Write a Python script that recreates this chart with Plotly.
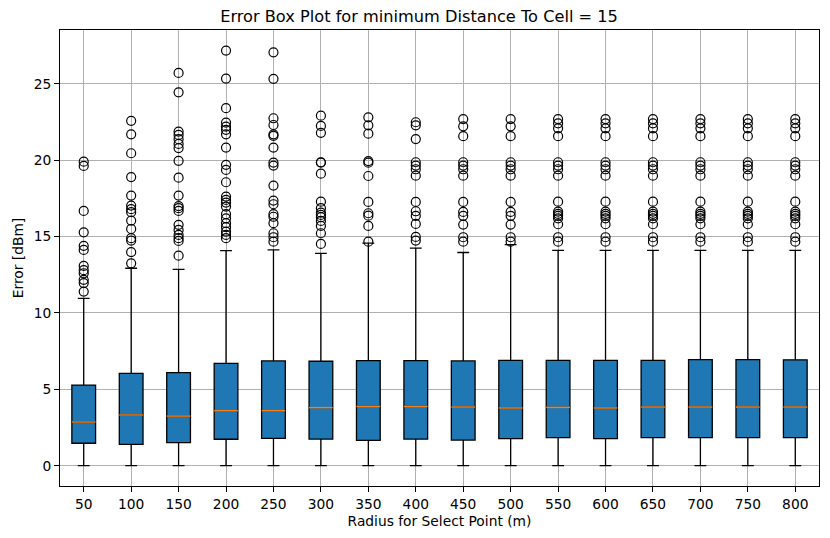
import plotly.graph_objects as go

radius = [50, 100, 150, 200, 250, 300, 350, 400, 450, 500, 550, 600, 650, 700, 750, 800]
positions = list(range(1, len(radius) + 1))

q1 = [1.47, 1.40, 1.51, 1.73, 1.79, 1.74, 1.66, 1.74, 1.68, 1.77, 1.84, 1.77, 1.84, 1.84, 1.84, 1.84]
median = [2.86, 3.32, 3.25, 3.60, 3.60, 3.80, 3.88, 3.88, 3.84, 3.78, 3.82, 3.78, 3.84, 3.84, 3.84, 3.84]
q3 = [5.28, 6.05, 6.09, 6.70, 6.86, 6.84, 6.88, 6.88, 6.86, 6.90, 6.90, 6.90, 6.90, 6.95, 6.95, 6.93]
lower = [0.0] * 16
upper = [10.96, 12.93, 12.86, 14.08, 14.13, 13.90, 14.57, 14.25, 13.96, 14.48, 14.10, 14.10, 14.10, 14.10, 14.10, 14.10]

tail = [22.70, 22.42, 22.09, 21.58, 19.87, 19.65, 19.41, 18.99,
        17.29, 16.64, 16.49, 16.36, 16.20, 15.81, 14.96, 14.67]

outliers = [
    [19.91, 19.63, 16.68, 15.28, 14.40, 14.13, 13.08, 12.80, 12.60, 12.17, 11.96, 11.40],
    [22.58, 21.70, 20.46, 18.90, 17.69, 17.03, 16.80, 16.60, 16.05, 15.50, 14.90, 14.74, 13.98, 13.25],
    [25.72, 24.45, 21.88, 21.66, 21.38, 21.07, 20.80, 19.96, 18.86, 17.69, 17.00, 16.86, 16.68,
     15.77, 15.44, 15.11, 14.90, 14.72, 13.75],
    [27.18, 25.35, 23.41, 22.47, 22.20, 21.99, 21.70, 20.83, 19.70, 19.37, 18.56, 17.62, 17.40,
     17.23, 16.97, 16.47, 16.20, 15.88, 15.62, 15.33, 15.11, 14.90],
    [27.07, 25.33, 22.75, 22.31, 21.70, 21.60, 20.83, 19.85, 19.65, 18.34, 17.36, 17.12, 16.47,
     16.30, 15.88, 15.22, 14.96, 14.67],
    [22.92, 22.25, 21.80, 19.87, 19.85, 19.12, 17.29, 16.86, 16.57, 16.42, 16.27, 16.03, 15.70, 15.22, 14.52],
    [22.81, 22.29, 21.74, 19.95, 19.84, 18.97, 17.27, 16.53, 16.37, 15.70, 14.67],
    [22.49, 22.29, 21.39, 19.87, 19.65, 19.41, 18.99, 17.27, 16.66, 16.36, 15.83, 14.98, 14.74],
    [22.70, 22.22, 21.58, 19.87, 19.65, 19.41, 18.99, 17.27, 16.62, 16.36, 15.79, 14.96, 14.67],
    [22.70, 22.22, 21.58, 19.87, 19.65, 19.41, 18.99, 17.27, 16.62, 16.36, 15.79, 14.96, 14.67],
    tail, tail, tail, tail, tail, tail,
]

blue = "rgb(31,119,180)"
grid = "rgb(176,176,176)"
font = "DejaVu Sans"

fig = go.Figure()

fig.add_trace(go.Box(
    x=positions, q1=q1, median=median, q3=q3,
    lowerfence=lower, upperfence=upper,
    width=0.5, whiskerwidth=0.5,
    fillcolor=blue, line=dict(color="black", width=1.3),
    boxpoints=False, hoverinfo="skip", showlegend=False,
))

# orange median lines drawn over the boxes
mx, my = [], []
for p, m in zip(positions, median):
    mx += [p - 0.25, p + 0.25, None]
    my += [m, m, None]
fig.add_trace(go.Scatter(x=mx, y=my, mode="lines",
                         line=dict(color="rgb(255,127,14)", width=1.5),
                         showlegend=False, hoverinfo="skip"))

ox, oy = [], []
for p, vals in zip(positions, outliers):
    ox += [p] * len(vals)
    oy += vals
fig.add_trace(go.Scatter(x=ox, y=oy, mode="markers",
                         marker=dict(symbol="circle-open", size=9, color="black",
                                     line=dict(width=1.2, color="black")),
                         showlegend=False))

# the page body adds an 8px offset, so the figure is slightly smaller
fig.update_layout(
    width=822, height=530,
    margin=dict(l=47, r=10, t=22, b=52),
    paper_bgcolor="white", plot_bgcolor="white",
    font=dict(family=font, size=13.8, color="black"),
    title=dict(text="Error Box Plot for minimum Distance To Cell = 15",
               x=0.5, xanchor="center", y=0.984, yanchor="middle",
               font=dict(family=font, size=16.2, color="black")),
)

fig.update_xaxes(
    range=[0.5, 16.5], tickmode="array", tickvals=positions,
    ticktext=[str(r) for r in radius],
    showgrid=True, gridcolor=grid, gridwidth=1,
    showline=True, linecolor="black", linewidth=1, mirror=True,
    ticks="outside", ticklen=5, tickcolor="black", zeroline=False,
    title=dict(text="Radius for Select Point (m)", font=dict(size=13.8), standoff=5),
)
fig.update_yaxes(
    range=[-1.33, 28.53], tickvals=[0, 5, 10, 15, 20, 25],
    showgrid=True, gridcolor=grid, gridwidth=1,
    showline=True, linecolor="black", linewidth=1, mirror=True,
    ticks="outside", ticklen=5, tickcolor="black", zeroline=False,
    title=dict(text="Error [dBm]", font=dict(size=13.8), standoff=6),
)

fig.write_html("out.html")
